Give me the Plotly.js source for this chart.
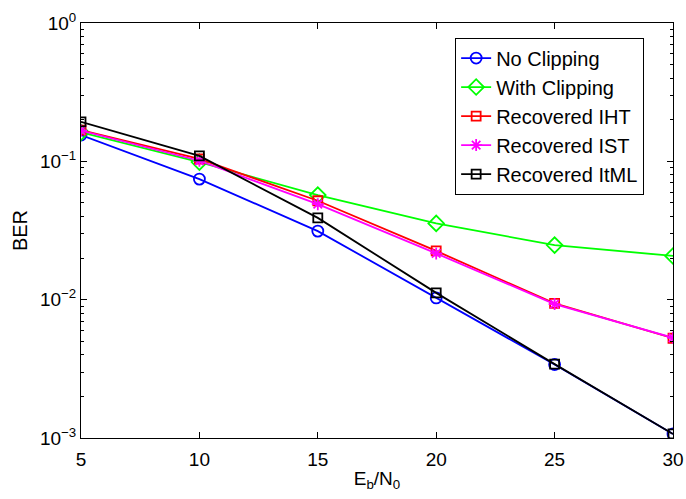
<!DOCTYPE html>
<html><head><meta charset="utf-8">
<script src="https://cdn.plot.ly/plotly-3.0.1.min.js"></script>
<style>body{margin:0;padding:0;background:#fff}#chart{width:686px;height:499px}</style>
</head><body><div id="chart"></div>
<script>
var snr = [5, 10, 15, 20, 25, 30];
var noClipping = [0.155, 0.0744, 0.0313, 0.0103, 0.0034, 0.00107];
var withClipping = [0.162, 0.0987, 0.057, 0.0356, 0.0248, 0.0207];
var recoveredIHT = [0.168, 0.104, 0.0519, 0.0225, 0.0094, 0.00526];
var recoveredIST = [0.167, 0.101, 0.049, 0.0216, 0.0093, 0.0053];
var recoveredItML = [0.193, 0.1096, 0.039, 0.0112, 0.00342, 0.00107];
var yTickVals = [0.001, 0.01, 0.1, 1];
var yTickText = ['10<sup>\u22123</sup>', '10<sup>\u22122</sup>', '10<sup>\u22121</sup>', '10<sup>0</sup>'];
var xTickVals = [5, 10, 15, 20, 25, 30];

var minorVals = [];
[0.001, 0.01, 0.1].forEach(function(d){ for (var k = 2; k <= 9; k++) minorVals.push(d*k); });

function tr(name, y, color, symbol) {
  return {x: snr, y: y, name: name, type: 'scatter', mode: 'lines+markers',
    line: {color: color, width: 1.8},
    marker: {symbol: symbol, size: 10, color: color, line: {color: color, width: 1.8}}};
}
var data = [
  tr('No Clipping', noClipping, '#0000ff', 'circle-open'),
  tr('With Clipping', withClipping, '#00ff00', 'diamond-open'),
  tr('Recovered IHT', recoveredIHT, '#ff0000', 'square-open'),
  tr('Recovered IST', recoveredIST, '#ff00ff', 'asterisk-open'),
  tr('Recovered ItML', recoveredItML, '#000000', 'square-open')
];
data[0].marker.size = 11;
data[1].marker.size = 12;
data[2].marker.size = 9;
data[4].marker.size = 9;

var fam = 'Liberation Sans, Arial, sans-serif';
var layout = {
  width: 686, height: 499,
  margin: {l: 81, r: 13, t: 23, b: 61},
  paper_bgcolor: '#fff', plot_bgcolor: '#fff',
  font: {family: fam, color: '#000', size: 19},
  showlegend: true,
  legend: {x: 0.632, y: 0.965, xanchor: 'left', yanchor: 'top',
    bgcolor: '#fff', bordercolor: '#000', borderwidth: 1,
    font: {family: fam, size: 20, color: '#000'},
    tracegroupgap: 0, itemwidth: 30},
  xaxis: {range: [5, 30], tickvals: xTickVals, ticks: 'inside', ticklen: 6,
    tickcolor: '#000', showline: true, linecolor: '#000', linewidth: 1,
    mirror: 'allticks', showgrid: false, zeroline: false, ticklabelstandoff: 4,
    tickfont: {family: fam, size: 19, color: '#000'},
    title: {text: 'E<sub>b</sub>/N<sub>0</sub>', font: {family: fam, size: 19, color: '#000'}, standoff: 2}},
  yaxis: {type: 'log', range: [-3, 0], tickvals: yTickVals, ticktext: yTickText,
    ticks: 'inside', ticklen: 6, tickcolor: '#000', showline: true, linecolor: '#000',
    linewidth: 1, mirror: 'allticks', showgrid: false, zeroline: false,
    tickfont: {family: fam, size: 19, color: '#000'},
    minor: {tickvals: minorVals, ticks: 'inside', ticklen: 3, tickcolor: '#000', showgrid: false},
    title: {text: 'BER', font: {family: fam, size: 20, color: '#000'}, standoff: 6}}
};
Plotly.newPlot('chart', data, layout, {displayModeBar: false, staticPlot: true});
</script></body></html>
